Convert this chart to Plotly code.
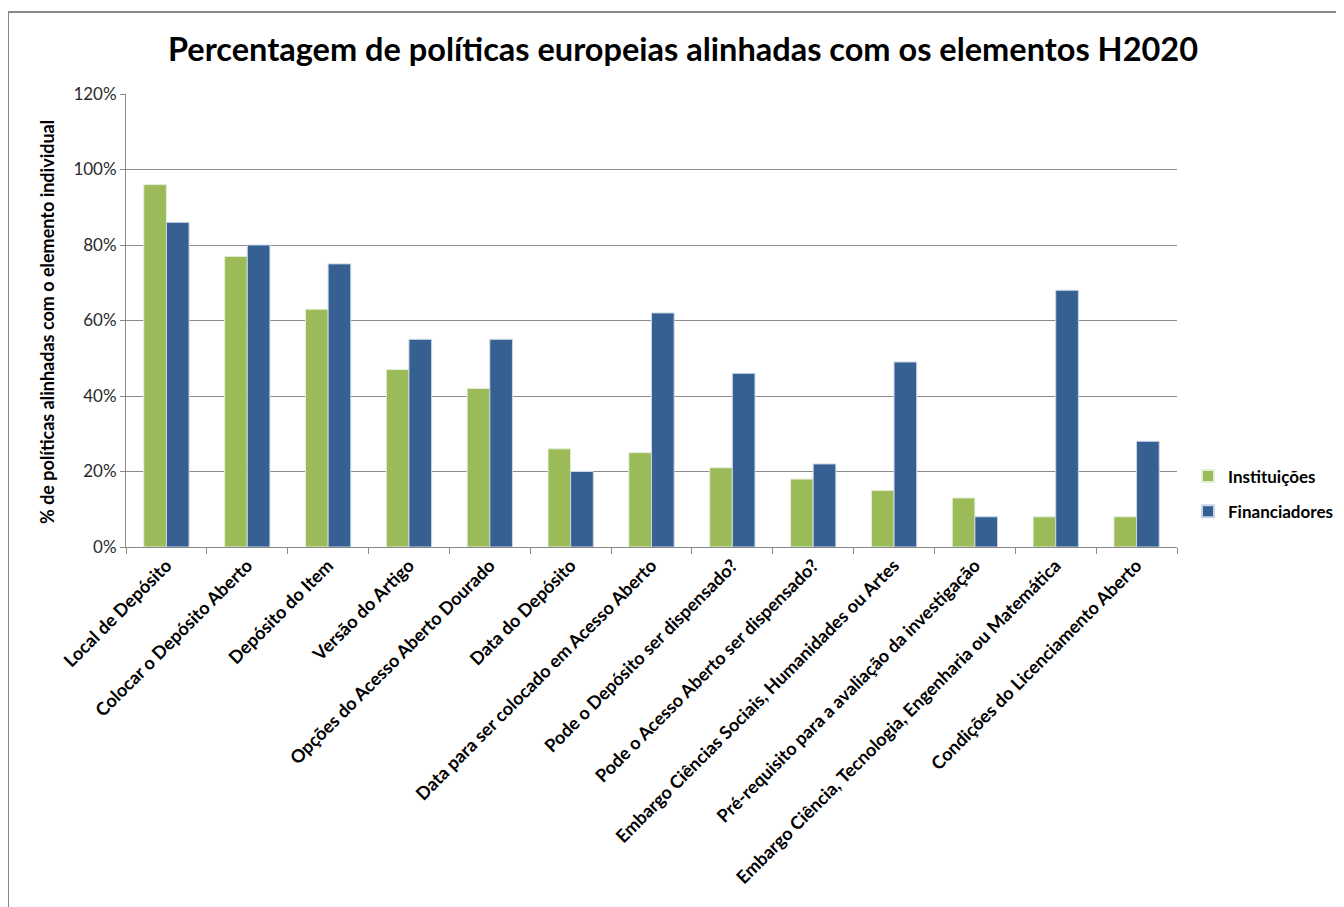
import plotly.graph_objects as go

categories = [
    "Local de Depósito",
    "Colocar o Depósito Aberto",
    "Depósito do Item",
    "Versão do Artigo",
    "Opções do Acesso Aberto Dourado",
    "Data do Depósito",
    "Data para ser colocado em Acesso Aberto",
    "Pode o Depósito ser dispensado?",
    "Pode o Acesso Aberto ser dispensado?",
    "Embargo Ciências Sociais, Humanidades ou Artes",
    "Pré-requisito para a avaliação da investigação",
    "Embargo Ciência, Tecnologia, Engenharia ou Matemática",
    "Condições do Licenciamento Aberto",
]
instituicoes = [0.96, 0.77, 0.63, 0.47, 0.42, 0.26, 0.25, 0.21, 0.18, 0.15, 0.13, 0.08, 0.08]
financiadores = [0.86, 0.80, 0.75, 0.55, 0.55, 0.20, 0.62, 0.46, 0.22, 0.49, 0.08, 0.68, 0.28]
y_ticks = [0, 0.2, 0.4, 0.6, 0.8, 1.0, 1.2]
y_tick_labels = ["0%", "20%", "40%", "60%", "80%", "100%", "120%"]
series_names = ["Instituições", "Financiadores"]

FONT = "Lato"
W, H = 1344, 907
OFF = 8  # page offset of the figure in the browser
L, R, T, B = 126 - OFF, 1177 - OFF, 94 - OFF, 547 - OFF

fig = go.Figure()
fig.add_trace(go.Bar(name="<b>" + series_names[0] + "</b>", x=categories, y=instituicoes, legendgroup="a",
                     marker=dict(color="#9BBB59", line=dict(color="#E6EEDA", width=1))))
fig.add_trace(go.Bar(name="<b>" + series_names[1] + "</b>", x=categories, y=financiadores, legendgroup="b",
                     marker=dict(color="#366092", line=dict(color="#C9D5E6", width=1))))

def px_x(p):
    return (p - OFF - L) / (R - L)

def px_y(p):
    return (B - (p - OFF)) / (B - T)

fig.update_layout(
    width=W, height=H,
    margin=dict(l=L, r=W - R, t=T, b=H - B, autoexpand=False),
    paper_bgcolor="white", plot_bgcolor="white",
    barmode="group", bargap=0.44, bargroupgap=0,
    font=dict(family=FONT, color="#000000"),
    title=dict(text="<b>Percentagem de políticas europeias alinhadas com os elementos H2020</b>",
               font=dict(family=FONT, size=32.5, color="#000000"),
               x=(683 - OFF) / W, xanchor="center", xref="container",
               y=1 - (50 - OFF) / H, yanchor="middle", yref="container"),
    legend=dict(x=px_x(1188), y=px_y(494), xanchor="left", yanchor="middle",
                font=dict(family=FONT, size=17, color="#000000"),
                tracegroupgap=10, traceorder="grouped", itemsizing="constant",
                bgcolor="rgba(0,0,0,0)", itemwidth=30),
    showlegend=True,
)
fig.update_xaxes(
    tickangle=-45, tickfont=dict(family=FONT, size=18, color="#000000"),
    showline=True, linecolor="#898989", linewidth=1,
    ticks="outside", tickson="boundaries", ticklen=6, tickcolor="#898989",
    showgrid=False, automargin=False,
    tickprefix="<b>", ticksuffix="</b>",
)
fig.update_yaxes(
    range=[0, 1.2], tickvals=y_ticks, ticktext=y_tick_labels,
    tickfont=dict(family=FONT, size=17, color="#2A2A2A"),
    showgrid=True, gridcolor="#8C8C8C", gridwidth=1,
    showline=True, linecolor="#898989", linewidth=1,
    ticks="outside", ticklen=5, tickcolor="#898989",
    zeroline=False, automargin=False,
)
fig.add_annotation(
    text="<b>% de políticas alinhadas com o elemento individual</b>",
    textangle=-90, xref="paper", yref="paper",
    x=px_x(47), y=px_y(322), xanchor="center", yanchor="middle",
    showarrow=False, font=dict(family=FONT, size=18, color="#000000"),
)
fig.add_shape(type="rect", xref="paper", yref="paper",
              x0=px_x(8), x1=px_x(1380), y0=px_y(960), y1=px_y(12),
              line=dict(color="#888888", width=2), fillcolor="rgba(0,0,0,0)", layer="below")

fig.write_html("out.html")
